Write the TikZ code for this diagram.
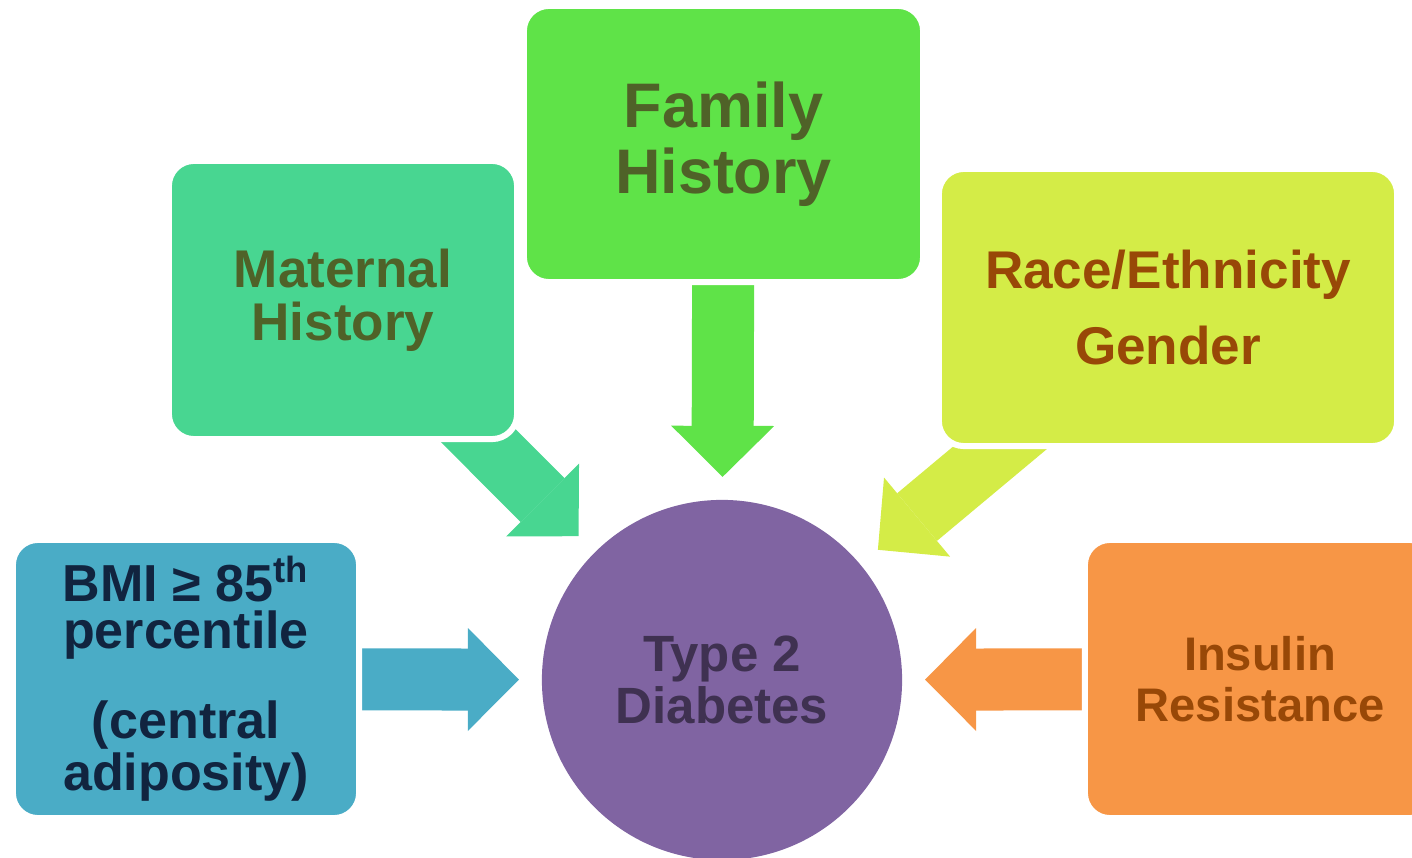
\documentclass[tikz,border=0pt]{standalone}
\usepackage{fontspec}
\setmainfont{Liberation Sans}
\usetikzlibrary{positioning,arrows.meta,backgrounds}

\definecolor{famgreen}{HTML}{5FE348}
\definecolor{matgreen}{HTML}{48D691}
\definecolor{racelime}{HTML}{D4EC47}
\definecolor{bmiblue}{HTML}{4AACC6}
\definecolor{insorange}{HTML}{F79646}
\definecolor{t2dpurple}{HTML}{8064A2}
\definecolor{olivetext}{HTML}{4F6228}
\definecolor{browntext}{HTML}{984807}
\definecolor{navytext}{HTML}{11243F}
\definecolor{plumtext}{HTML}{3F3151}

\tikzset{
  factor/.style={rectangle, rounded corners=0.25cm, draw=white, line width=0.06cm,
    align=center, inner sep=0pt, minimum height=2.78cm},
  flow/.style={line width=0.62cm, -{Triangle[length=0.51cm, width=1.03cm, line width=0pt]},
    shorten >=0.23cm},
}

\begin{document}
\begin{tikzpicture}[x=0.01cm, y=-0.01cm]
  \useasboundingbox (0,0) rectangle (1412,858);

  % centre
  \node[circle, fill=t2dpurple, minimum size=3.6cm, inner sep=0pt, outer sep=0pt, align=center,
    text=plumtext, font=\fontsize{14.5}{14.8}\selectfont\bfseries] (t2d) at (722,680) {Type 2\\Diabetes};

  % risk factors
  \node[factor, fill=famgreen, minimum width=3.99cm, minimum height=2.76cm, text=olivetext,
    font=\fontsize{17.9}{18.8}\selectfont\bfseries] (fam) at (723.5,144) {Family\\History};
  \node[factor, fill=matgreen, minimum width=3.48cm, text=olivetext,
    font=\fontsize{15.1}{15.1}\selectfont\bfseries] (mat) at (343,300) {Maternal\\History};
  \node[factor, fill=racelime, minimum width=4.58cm, minimum height=2.77cm, text=browntext,
    font=\fontsize{15.1}{21.6}\selectfont\bfseries] (race) at (1168,307.5) {Race/Ethnicity\\Gender};
  \node[factor, fill=bmiblue, minimum width=3.46cm, text=navytext,
    font=\fontsize{14.8}{13.4}\selectfont\bfseries] (bmi) at (186,679)
    {BMI ≥ 85\textsuperscript{th}\\percentile\\[11pt](central\\adiposity)};
  \node[factor, fill=insorange, minimum width=3.50cm, text=browntext,
    font=\fontsize{13.4}{14.5}\selectfont\bfseries] (ins) at (1260,679) {Insulin\\Resistance};

  \begin{pgfonlayer}{background}
    \draw[flow, famgreen] (fam.center) -- (t2d);
    \draw[flow, matgreen] (mat.center) -- (t2d);
    \draw[flow, racelime] (race.center) -- (t2d);
    \draw[flow, bmiblue] (bmi.center) -- (t2d);
    \draw[flow, insorange] (ins.center) -- (t2d);
  \end{pgfonlayer}
\end{tikzpicture}
\end{document}
